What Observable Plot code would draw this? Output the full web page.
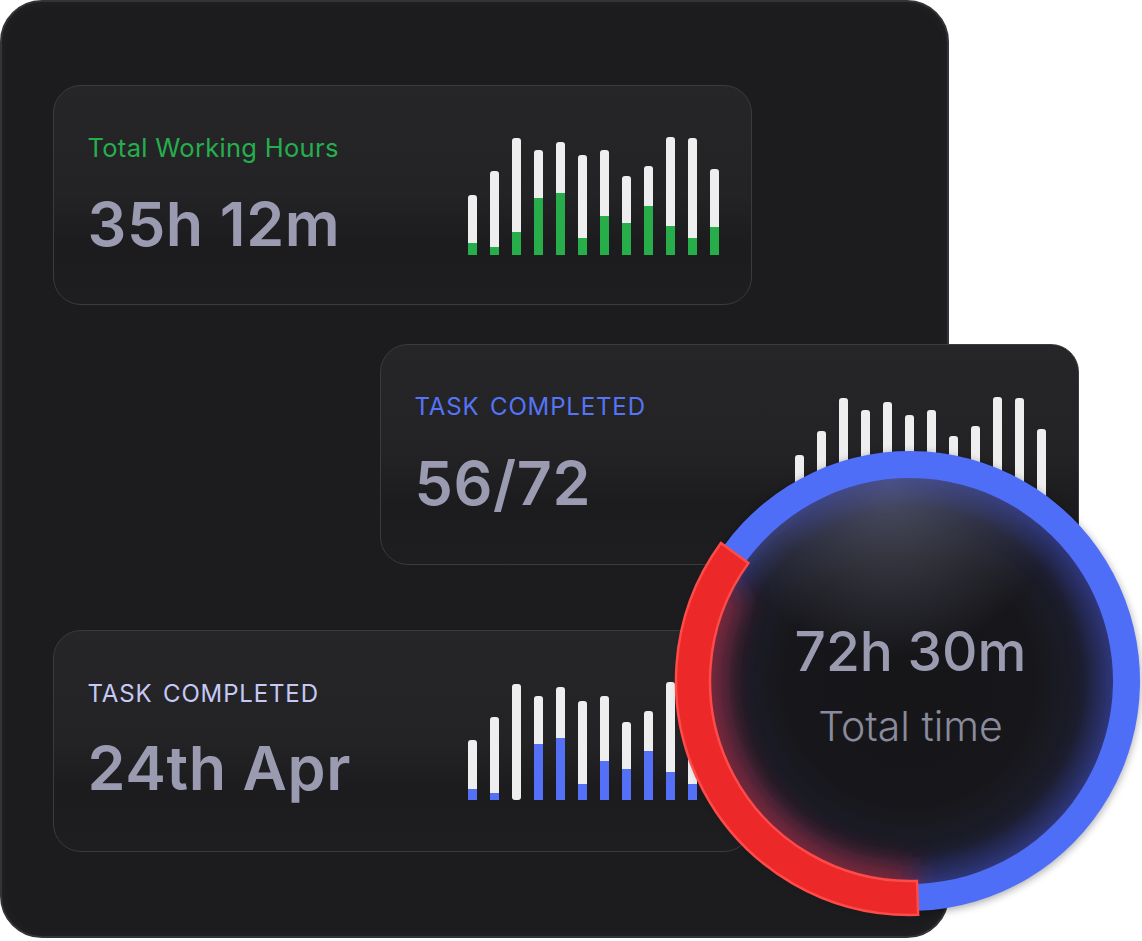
<!DOCTYPE html>
<html>
<head>
<meta charset="utf-8">
<script src="https://cdn.jsdelivr.net/npm/d3@7"></script>
<script src="https://cdn.jsdelivr.net/npm/@observablehq/plot@0.6"></script>
<style>
html,body{margin:0;padding:0;background:#ffffff;overflow:hidden;}
#root{position:relative;width:1142px;height:941px;overflow:hidden;font-family:Inter,"Noto Sans",sans-serif;}
.panel{position:absolute;left:0;top:0;width:949px;height:938px;box-sizing:border-box;border-radius:42px;background:#1c1c1f;border:2px solid #343438;box-shadow:inset 0 0 14px rgba(255,255,255,0.035);}
.card{position:absolute;box-sizing:border-box;border-radius:28px;border:1.5px solid #3a3a3f;background:linear-gradient(180deg,#262629 0%,#232326 50%,#1c1c1f 72%,#1e1e21 100%);}
.label{position:absolute;font-size:25.5px;line-height:1;white-space:nowrap;letter-spacing:0.3px;}
.caps{font-size:24px;letter-spacing:0.85px;word-spacing:3px;}
.big{position:absolute;font-size:61px;font-weight:600;line-height:1;color:#9a9bb1;white-space:nowrap;letter-spacing:0.6px;}
.chart{position:absolute;}
.chart svg{display:block;max-width:none !important;}
</style>
</head>
<body>
<div id="root">
  <div class="panel"></div>
  <div class="card" style="left:53px;top:85px;width:699px;height:220px;"></div>
  <div class="label" style="left:87.5px;top:135px;color:#26ae4d;">Total Working Hours</div>
  <div class="big" style="left:87.5px;top:194px;">35h 12m</div>
  <div class="chart" id="c1" style="left:461.5px;top:135px;width:264px;"></div>

  <div class="card" style="left:380px;top:344px;width:699px;height:221px;"></div>
  <div class="label caps" style="left:414.5px;top:395px;color:#5574f7;">TASK COMPLETED</div>
  <div class="big" style="left:414.5px;top:453px;">56/72</div>
  <div class="chart" id="c2" style="left:788.8px;top:395px;width:264px;"></div>

  <div class="card" style="left:53px;top:630px;width:699px;height:222px;"></div>
  <div class="label caps" style="left:87.5px;top:681.5px;color:#c6c9f6;">TASK COMPLETED</div>
  <div class="big" style="left:87.5px;top:738px;">24th Apr</div>
  <div class="chart" id="c3" style="left:461.5px;top:680px;width:264px;"></div>

  <div class="chart" id="ring" style="left:670px;top:441px;width:480px;height:480px;"></div>
</div>
<script>
// ---- data ----
const months = ["Jan","Feb","Mar","Apr","May","Jun","Jul","Aug","Sep","Oct","Nov","Dec"];
const hoursTotal  = [60, 84, 117, 105, 113, 100, 105, 79, 89, 118, 117, 86];
const hoursWorked = [12, 8, 23, 57, 62, 17, 39, 32, 49, 29, 17, 28];
const tasksTotal  = [60, 84, 117, 105, 113, 100, 105, 79, 89, 118, 117, 86];
const aprTotal    = [60, 83, 116, 104, 113, 99, 104, 78, 89, 118, 117, 86];
const aprDone     = [11, 7, 0, 56, 62, 16, 39, 31, 49, 28, 16, 28];
const ringLabels  = ["Break", "Work"];
const ringHours   = [25.8, 46.7];
const ringColors  = ["#ec2828", "#4f6ef7"];

function barChart(totals, done, color) {
  const data = months.map((m, i) => ({month: m, total: totals[i], done: done ? done[i] : 0}));
  const marks = [Plot.barY(data, {x: "month", y: "total", fill: "#eeeeee", rx: 3})];
  if (done) marks.push(Plot.barY(data, {x: "month", y: "done", fill: color}));
  return Plot.plot({
    width: 264, height: 120,
    marginTop: 0, marginBottom: 0, marginLeft: 0, marginRight: 0,
    style: {background: "transparent", overflow: "visible", maxWidth: "none"},
    x: {type: "band", domain: months, paddingInner: 0.59, paddingOuter: 0.295, axis: null},
    y: {domain: [0, 120], axis: null},
    marks
  });
}

document.getElementById("c1").append(barChart(hoursTotal, hoursWorked, "#27ad4a"));
document.getElementById("c2").append(barChart(tasksTotal, null, null));
document.getElementById("c3").append(barChart(aprTotal, aprDone, "#5470f6"));

function ringMark(index, scales, values, dimensions) {
  const cx = dimensions.width / 2, cy = dimensions.height / 2;
  const g = d3.create("svg:g");
  const defs = g.append("defs");
  const rad = Math.PI / 180;
  const pie = d3.pie().sort(null).value(d => d).startAngle(178 * rad).endAngle(538 * rad);
  const arcs = pie(ringHours);

  const f1 = defs.append("filter").attr("id", "shadowBlur").attr("x", "-30%").attr("y", "-30%").attr("width", "160%").attr("height", "160%");
  f1.append("feGaussianBlur").attr("stdDeviation", 4);
  const f2 = defs.append("filter").attr("id", "glowBlur").attr("x", "-30%").attr("y", "-30%").attr("width", "160%").attr("height", "160%");
  f2.append("feGaussianBlur").attr("stdDeviation", 14);

  const dg = defs.append("radialGradient").attr("id", "diskGrad").attr("cx", "50%").attr("cy", "50%").attr("r", "50%");
  [[0, "#161619"], [0.62, "#17171b"], [0.85, "#1c1d2b"], [0.95, "#272c55"], [1, "#313873"]].forEach(([o, c]) =>
    dg.append("stop").attr("offset", o).attr("stop-color", c));
  const tg = defs.append("radialGradient").attr("id", "topGrad").attr("cx", "45%").attr("cy", "2%").attr("r", "42%");
  tg.append("stop").attr("offset", 0).attr("stop-color", "#7c7f98").attr("stop-opacity", 0.5);
  tg.append("stop").attr("offset", 1).attr("stop-color", "#7c7f98").attr("stop-opacity", 0);
  defs.append("clipPath").attr("id", "diskClip").append("circle").attr("cx", 0).attr("cy", 0).attr("r", 204);

  const c = g.append("g").attr("transform", `translate(${cx},${cy})`);
  c.append("circle").attr("r", 230).attr("cy", 2).attr("fill", "#000").attr("opacity", 0.35).attr("filter", "url(#shadowBlur)");
  c.append("circle").attr("r", 204).attr("fill", "url(#diskGrad)");
  const inner = c.append("g").attr("clip-path", "url(#diskClip)");
  inner.append("circle").attr("r", 204).attr("fill", "url(#topGrad)");
  const glowArc = d3.arc().innerRadius(185).outerRadius(225);
  inner.append("path").attr("d", glowArc({startAngle: arcs[0].startAngle, endAngle: arcs[0].endAngle - 0.15}))
    .attr("fill", "#a82024").attr("opacity", 0.7).attr("filter", "url(#glowBlur)");
  inner.append("path").attr("d", glowArc({startAngle: arcs[1].startAngle + 0.3, endAngle: arcs[1].endAngle}))
    .attr("fill", "#2d3a9a").attr("opacity", 0.3).attr("filter", "url(#glowBlur)");

  const blueArc = d3.arc().innerRadius(203).outerRadius(230);
  const redArc = d3.arc().innerRadius(200).outerRadius(234);
  c.append("path").attr("d", blueArc(arcs[1])).attr("fill", ringColors[1]);
  c.append("path").attr("d", redArc(arcs[0])).attr("fill", ringColors[0]).attr("stroke", "#ff4a4a").attr("stroke-width", 2.5);
  return g.node();
}

document.getElementById("ring").append(Plot.plot({
  width: 480, height: 480,
  margin: 0,
  style: {background: "transparent", overflow: "visible", maxWidth: "none"},
  marks: [
    ringMark,
    Plot.text(["72h 30m"], {frameAnchor: "middle", dy: -27.9, text: d => d, fontSize: 55, fontWeight: 500, fill: "#9a9bb0", fontFamily: "Inter"}),
    Plot.text(["Total time"], {frameAnchor: "middle", dy: 45.9, text: d => d, fontSize: 41, fontWeight: 300, fill: "#8a8b9c", fontFamily: "Inter"})
  ]
}));
</script>
</body>
</html>
